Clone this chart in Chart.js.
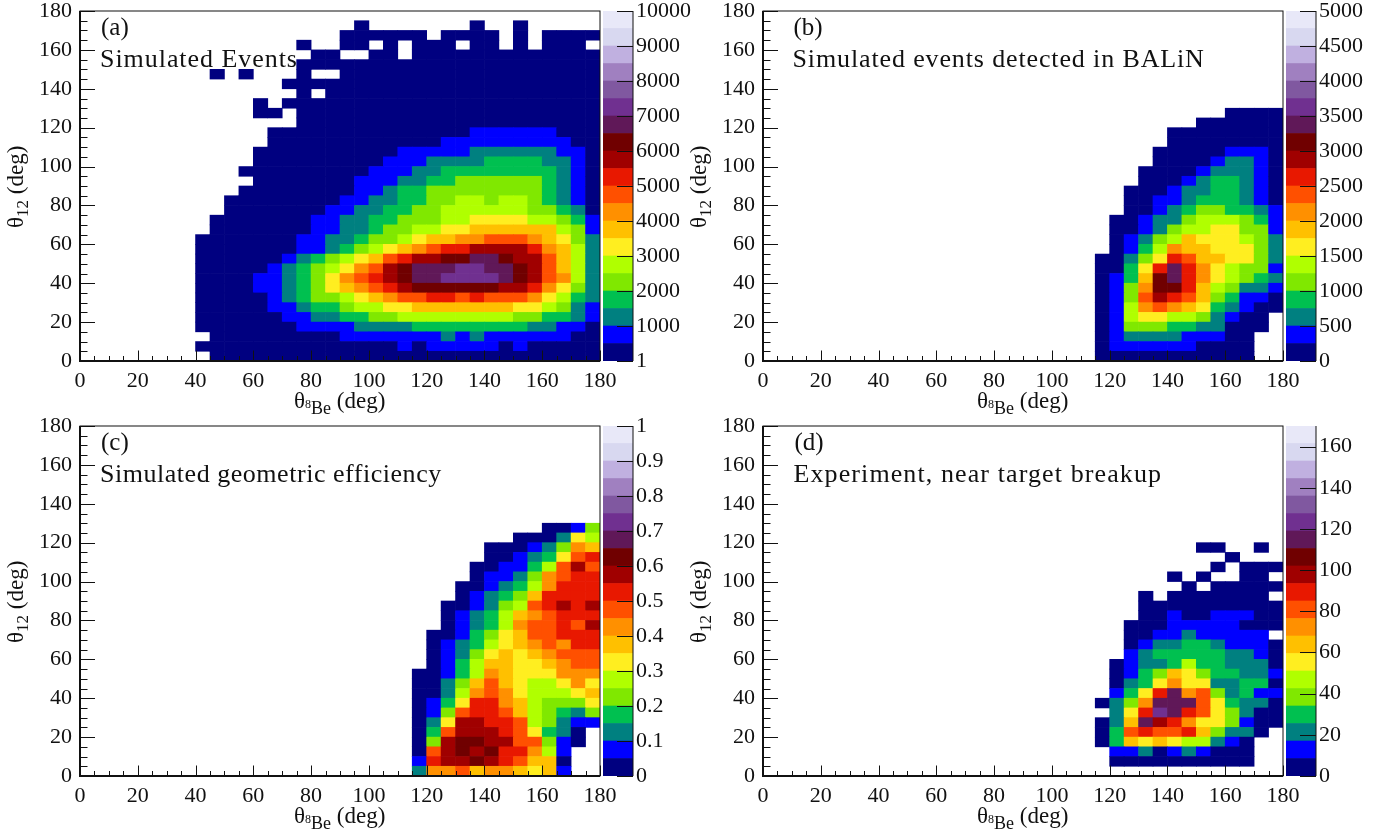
<!DOCTYPE html>
<html>
<head>
<meta charset="utf-8">
<title>Breakup angular distributions</title>
<script src="https://cdn.jsdelivr.net/npm/chart.js@4"></script>
<style>
  body { margin: 0; background: #fff; }
  canvas { position: absolute; }
</style>
</head>
<body>
<script>
// each row is one 5 deg strip of theta12, top strip first, last string is 0-5 deg
// a row is right aligned on 175-180 deg of theta8Be, padStart fills the rest
// one character = the colour bin read off the palette (1 = lowest, base 36, '.' = empty)
const simulatedEvents = [
  '1.......1..1.....',
  '111111.1111.1.1111',
  '1..11.1.111.11.1.111.',
  '11..11.1111111111111',
  '111111111111111111111',
  '1.1...1..111111111111111111',
  '1111111111111111111111',
  '1.1111111111111111111',
  '1.1111111111111111111111',
  '11.111111111111111111111',
  '111111111111111111111',
  '11111111111111222222111',
  '11111111111122222222211',
  '111111111122222333333221',
  '111111111222333344443321',
  '1111111112223344444444321',
  '111111122233445555554321',
  '1111111122344555555554321',
  '11111111223344556656654321',
  '11111112233445566666655431',
  '111111122334455566777766542',
  '111111122334556677888888652',
  '11111112233455678899aaa98753',
  '1111111223456789abbccccb9863',
  '1111112345678abccddeedcca863',
  '111112345679acdeeeffeedca863',
  '11112234579abcdeeffffedca963',
  '111122345789abcddddddccb9753',
  '11111234556789aabbabaaa97643',
  '1111122344566778888888776532',
  '1111112233445566666666554432',
  '1111111222233334444444433221',
  '111111111222222232322222211',
  '1111111111111121222221211111',
  '111111111111111111111111111'
];
const detectedEvents = [
  '1111',
  '111111',
  '11111111',
  '11111111',
  '111112221',
  '111123321',
  '1111233321',
  '1112344321',
  '11123344321',
  '11223444321',
  '11234554432',
  '112335666542',
  '112356677552',
  '123568777653',
  '124698877753',
  '11357ba887753',
  '1147beb976552',
  '1248deb976543',
  '1259ddb865332',
  '125acba854221',
  '1269a98743211',
  '126776653211.',
  '125554433111.',
  '12333322211..',
  '12222221111..',
  '11111111111..'
];
const geometricEfficiency = [
  '1125',
  '111376',
  '11123598',
  '112347ab',
  '112246aca',
  '122359abb',
  '1123469bbb',
  '123458bbbb',
  '112356abcbc',
  '1234689abbb',
  '123469aabac',
  '1124578aabbb',
  '12346789a9bb',
  '123578789aaa',
  '1246887789aa',
  '1124698777999',
  '11358a8766797',
  '11369a9766678',
  '1247bb9865557',
  '125abba865435',
  '137ccbba65322',
  '14acccba7431.',
  '15cddccaa521.',
  '1acdcdbb962..',
  '2bccdcba881..',
  '399a8998782..'
];
const experimentEvents = [
  '11..1.',
  '1...',
  '1.111',
  '1.1..11.',
  '1.11111',
  '1.1111111.',
  '1111111111',
  '1121122211',
  '11122222111',
  '1122322222.',
  '12334432221',
  '23444443321',
  '123346443331',
  '124587544332',
  '134797733441',
  '247be9a53422',
  '1359eeea74331',
  '37bfeba75311',
  '138ecb9775211',
  '14abaab85331.',
  '14878766321..',
  '2231232111..',
  '1111111111..',
  ''
];

const palette = ['#000080', '#0000ff', '#008080', '#00c050', '#80e800', '#b0ff00', '#ffee20', '#ffc000', '#ff9000', '#ff5000',
  '#e81800', '#a00000', '#700000', '#601858', '#703090', '#8058a0', '#a080c0', '#c0b0e0', '#d8d8f0', '#e8e8f8'];

const angleTicks = [0, 20, 40, 60, 80, 100, 120, 140, 160, 180];
const barTicksA = [1, 1000, 2000, 3000, 4000, 5000, 6000, 7000, 8000, 9000, 10000];
const barTicksB = [0, 500, 1000, 1500, 2000, 2500, 3000, 3500, 4000, 4500, 5000];
const barTicksC = [0, 0.1, 0.2, 0.3, 0.4, 0.5, 0.6, 0.7, 0.8, 0.9, 1];
const barTicksD = [0, 20, 40, 60, 80, 100, 120, 140, 160];

const SERIF = '"Liberation Serif", serif';
const CELL = 5;
const PLOT_W = 520, PLOT_H = 350;

const panels = [
  { tag: '(a)', text: 'Simulated Events', rows: simulatedEvents, ticks: barTicksA, zMin: 1, zMax: 10000, left: 80, top: 11, textX: 20, textGap: 0.95 },
  { tag: '(b)', text: 'Simulated events detected in BALiN', rows: detectedEvents, ticks: barTicksB, zMin: 0, zMax: 5000, left: 762.5, top: 11, textX: 29.5, textGap: 0.87 },
  { tag: '(c)', text: 'Simulated geometric efficiency', rows: geometricEfficiency, ticks: barTicksC, zMin: 0, zMax: 1, left: 80, top: 426, textX: 20, textGap: 0.53 },
  { tag: '(d)', text: 'Experiment, near target breakup', rows: experimentEvents, ticks: barTicksD, zMin: 0, zMax: 170, left: 762.5, top: 426, textX: 30.5, textGap: 1.1 }
];

// a run of text with its own size and baseline shift (axis titles have subscripts)
function drawPieces(ctx, pieces, x, y) {
  pieces.forEach(([txt, size, dy]) => {
    ctx.font = size + 'px ' + SERIF;
    ctx.fillText(txt, x, y + dy);
    x += ctx.measureText(txt).width;
  });
}

// ticks go inside the frame like in ROOT, chart.js can only draw them outside
const frameAndTicks = {
  id: 'frameAndTicks',
  afterDatasetsDraw(chart, args, opts) {
    const { ctx, chartArea: a, scales } = chart;
    ctx.save();
    ctx.strokeStyle = '#111';
    ctx.lineWidth = 1;
    for (let v = 0; v <= 180; v += 5) {
      const major = v % 20 === 0;
      const px = Math.round(scales.x.getPixelForValue(v)) + 0.5;
      const py = Math.round(scales.y.getPixelForValue(v)) + 0.5;
      ctx.beginPath();
      ctx.moveTo(px, a.bottom);
      ctx.lineTo(px, a.bottom - (major ? 10.5 : 5));
      ctx.moveTo(a.left, py);
      ctx.lineTo(a.left + (major ? 15 : 7.5), py);
      ctx.stroke();
    }
    ctx.strokeRect(a.left, a.top, a.width, a.height);
    ctx.lineWidth = 2;
    ctx.beginPath();
    ctx.moveTo(a.left, a.top);
    ctx.lineTo(a.left, a.bottom);
    ctx.lineTo(a.right, a.bottom);
    ctx.stroke();

    ctx.fillStyle = '#111';
    ctx.textAlign = 'left';
    ctx.textBaseline = 'alphabetic';
    ctx.font = '25px ' + SERIF;
    ctx.fillText(opts.tag, a.left + opts.textX + 1, a.top + 24);
    ctx.font = '26px ' + SERIF;
    ctx.letterSpacing = opts.textGap + 'px';
    ctx.fillText(opts.text, a.left + opts.textX, a.top + 56);
    ctx.letterSpacing = '0px';
    drawPieces(ctx, [['θ', 23, 0], ['8', 12, 0], ['Be', 18, 6], [' (deg)', 23, 0]], a.left + 214, a.bottom + 47);
    ctx.translate(a.left - 57, a.bottom - 133);
    ctx.rotate(-Math.PI / 2);
    drawPieces(ctx, [['θ', 23, 0], ['12', 17, 5], [' (deg)', 23, 0]], 0, 0);
    ctx.restore();
  }
};

const barFrame = {
  id: 'barFrame',
  afterDatasetsDraw(chart) {
    const { ctx, chartArea: a, scales } = chart;
    ctx.save();
    ctx.strokeStyle = '#111';
    ctx.lineWidth = 1;
    ctx.beginPath();
    ctx.moveTo(a.right, a.top);
    ctx.lineTo(a.right, a.bottom);
    scales.y.ticks.forEach(t => {
      const py = Math.round(scales.y.getPixelForValue(t.value)) + 0.5;
      ctx.moveTo(a.right, py);
      ctx.lineTo(a.right - 16, py);
    });
    ctx.stroke();
    ctx.restore();
  }
};

function heatData(p) {
  const step = (p.zMax - p.zMin) / palette.length;
  const out = [];
  p.rows.forEach((row, i) => {
    const r = p.rows.length - 1 - i;
    row.padStart(36, '.').split('').forEach((ch, c) => {
      if (ch === '.') return;
      const value = p.zMin + (parseInt(ch, 36) - 0.5) * step;
      out.push({ x: c * CELL + CELL / 2, y: [r * CELL, (r + 1) * CELL], value });
    });
  });
  return out;
}

function addCanvas(x, y, w, h) {
  const cv = document.createElement('canvas');
  cv.width = w;
  cv.height = h;
  cv.style.left = x + 'px';
  cv.style.top = y + 'px';
  cv.style.width = w + 'px';
  cv.style.height = h + 'px';
  document.body.appendChild(cv);
  return cv;
}

function axisLabels(pad) {
  return { autoSkip: false, maxRotation: 0, padding: pad, color: '#111', font: { family: SERIF, size: 22 } };
}

// the plot rectangle has to stay fixed, so no extra room for the end labels
function noScalePadding(s) {
  s.paddingTop = s.paddingBottom = s.paddingLeft = s.paddingRight = 0;
}

panels.forEach(p => {
  const step = (p.zMax - p.zMin) / palette.length;
  const data = heatData(p);

  new Chart(addCanvas(p.left - 80, p.top - 12, 80 + PLOT_W + 20, 12 + PLOT_H + 60), {
    type: 'bar',
    data: {
      datasets: [{
        data,
        backgroundColor: data.map(d => palette[Math.floor((d.value - p.zMin) / step)]),
        barPercentage: 1,
        categoryPercentage: 1,
        grouped: false
      }]
    },
    options: {
      responsive: false,
      animation: false,
      devicePixelRatio: 1,
      layout: { padding: { top: 12, right: 20 } },
      plugins: { legend: { display: false }, tooltip: { enabled: false }, frameAndTicks: { tag: p.tag, text: p.text, textX: p.textX, textGap: p.textGap } },
      scales: {
        x: {
          type: 'linear', min: 0, max: 180, offset: false,
          grid: { display: false, drawTicks: false }, border: { display: false },
          ticks: axisLabels(7),
          afterBuildTicks: s => { s.ticks = angleTicks.map(value => ({ value })); },
          afterFit: s => { s.height = 60; noScalePadding(s); }
        },
        y: {
          type: 'linear', min: 0, max: 180,
          grid: { display: false, drawTicks: false }, border: { display: false },
          ticks: axisLabels(8),
          afterBuildTicks: s => { s.ticks = angleTicks.map(value => ({ value })); },
          afterFit: s => { s.width = 80; noScalePadding(s); }
        }
      }
    },
    plugins: [frameAndTicks]
  });

  // palette on the right of each plot
  new Chart(addCanvas(p.left + PLOT_W + 3, p.top - 12, 100, 12 + PLOT_H + 12), {
    type: 'bar',
    data: {
      labels: [''],
      datasets: palette.map((colour, i) => ({
        data: [[p.zMin + i * step, p.zMin + (i + 1) * step]],
        backgroundColor: colour,
        barPercentage: 1,
        categoryPercentage: 1,
        grouped: false
      }))
    },
    options: {
      responsive: false,
      animation: false,
      devicePixelRatio: 1,
      layout: { padding: { top: 12, bottom: 12 } },
      plugins: { legend: { display: false }, tooltip: { enabled: false } },
      scales: {
        x: { display: false },
        y: {
          type: 'linear', position: 'right', min: p.zMin, max: p.zMax,
          grid: { display: false, drawTicks: false }, border: { display: false },
          ticks: Object.assign(axisLabels(3), { callback: v => String(v) }),
          afterBuildTicks: s => { s.ticks = p.ticks.map(value => ({ value })); },
          afterFit: s => { s.width = 70; noScalePadding(s); }
        }
      }
    },
    plugins: [barFrame]
  });
});
</script>
</body>
</html>
